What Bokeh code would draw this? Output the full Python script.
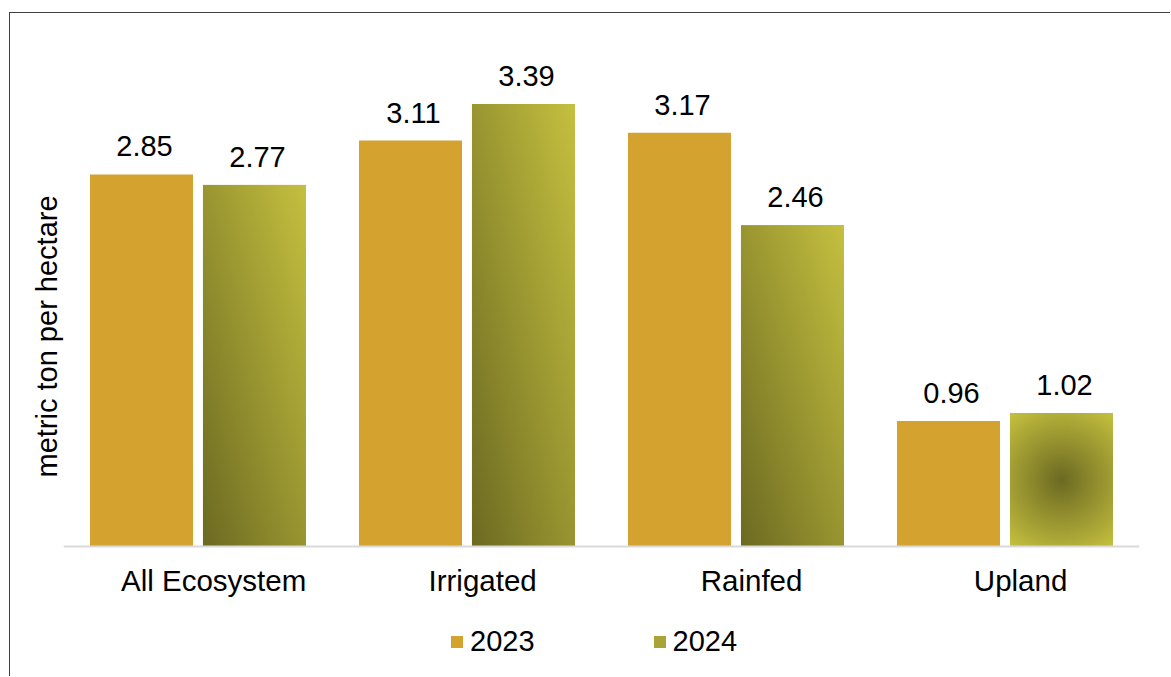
import numpy as np
from bokeh.plotting import figure
from bokeh.models import Range1d, FixedTicker, Legend, LegendItem, Title, LinearAxis
from bokeh.core.properties import value
from bokeh.embed import file_html
from bokeh.resources import INLINE

# ---- data ----
categories = ["All Ecosystem", "Irrigated", "Rainfed", "Upland"]
series_names = ["2023", "2024"]
yield_2023 = [2.85, 3.11, 3.17, 0.96]
yield_2024 = [2.77, 3.39, 2.46, 1.02]
gradient_2024 = ["linear", "linear", "linear", "radial"]
y_label = "metric ton per hectare"

FONT = "Liberation Sans"
C2023 = "#D3A22F"
DARK = np.array([108, 106, 34], dtype=float)
LIGHT = np.array([198, 193, 64], dtype=float)
MID = "#A8A437"

idx = np.arange(len(categories))
OFF = 0.21
BW = 0.383
LABEL_SHIFT = 0.058

p = figure(frame_width=1076, frame_height=652,
           x_range=Range1d(-0.5, len(categories) - 0.5),
           y_range=Range1d(-1.0, 4.0),
           output_backend="svg", toolbar_location=None,
           min_border_left=53, min_border_right=31, min_border_top=11, min_border_bottom=0,
           outline_line_color=None, background_fill_color="white", border_fill_color="white",
           margin=(12, 0, 0, 9),
           styles={"border-left": "1px solid #404040", "border-top": "1px solid #404040"})
p.extra_x_ranges = {"lab": Range1d(-0.5 - LABEL_SHIFT, len(categories) - 0.5 - LABEL_SHIFT)}

r23 = p.vbar(x=idx - OFF, top=yield_2023, width=BW, bottom=0, fill_color=C2023, line_color=None)
r24 = p.vbar(x=idx + OFF, top=yield_2024, width=BW, bottom=0, fill_color=MID, line_color=None)

# gradient fills for 2024 bars
for i, (v, kind) in enumerate(zip(yield_2024, gradient_2024)):
    W = 103
    H = max(2, int(round(v * 130.5)))
    u = (np.arange(W) + 0.5) / W
    w = (np.arange(H) + 0.5) / H
    if kind == "linear":
        t = (u[None, :] + w[:, None]) / 2.0
    else:
        dx = (u[None, :] - 0.5) * W
        dy = (w[:, None] - 0.5) * H
        r = np.sqrt(dx ** 2 + dy ** 2)
        t = r / r.max()
    img = np.empty((H, W), dtype=np.uint32)
    view = img.view(dtype=np.uint8).reshape((H, W, 4))
    for k in range(3):
        view[:, :, k] = np.clip(DARK[k] + (LIGHT[k] - DARK[k]) * t, 0, 255).astype(np.uint8)
    view[:, :, 3] = 255
    p.image_rgba(image=[img], x=i + OFF - BW / 2, y=0, dw=BW, dh=v)

# value labels
for xs, vals in ((idx - OFF, yield_2023), (idx + OFF, yield_2024)):
    p.text(x=xs, y=vals, text=[f"{v:.2f}" for v in vals],
           text_align="center", text_baseline="alphabetic", y_offset=-28, x_offset=3,
           text_font=value(FONT), text_font_size="29px", text_color="#000000")

# axes
p.yaxis.visible = False
p.xaxis.visible = False
p.xgrid.visible = False
p.ygrid.visible = False

xax = LinearAxis(x_range_name="lab", fixed_location=0,
                 ticker=FixedTicker(ticks=list(idx)),
                 major_label_overrides={int(i): c for i, c in zip(idx, categories)},
                 axis_line_color="#D9D9D9", axis_line_width=2,
                 major_tick_line_color=None, minor_tick_line_color=None,
                 major_tick_out=0, major_tick_in=0, major_label_standoff=18,
                 major_label_text_font=FONT, major_label_text_font_size="29.5px",
                 major_label_text_color="#000000")
p.add_layout(xax, "below")

ytitle = Title(text=y_label, align="left", offset=199, vertical_align="middle", standoff=0,
               text_font=FONT, text_font_size="29px", text_font_style="normal",
               text_color="#000000")
p.add_layout(ytitle, "left")

legend = Legend(items=[LegendItem(label=series_names[0], renderers=[r23]),
                       LegendItem(label=series_names[1], renderers=[r24])],
                orientation="horizontal", location=(386, 18),
                glyph_width=15, glyph_height=15, label_standoff=6, spacing=117,
                padding=0, margin=0, border_line_color=None, background_fill_alpha=0,
                label_text_font=FONT, label_text_font_size="29px", label_text_color="#000000")
p.add_layout(legend)

open("out.html", "w").write(file_html(p, INLINE))
